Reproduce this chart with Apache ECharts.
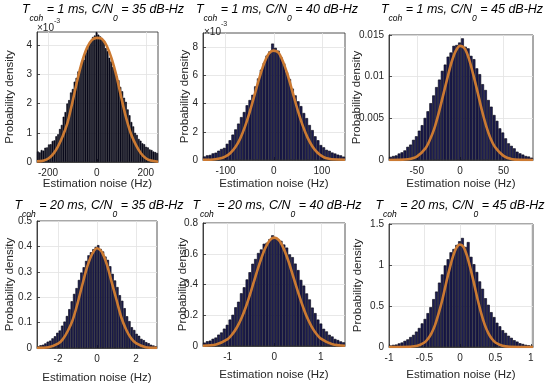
<!DOCTYPE html>
<html>
<head>
<meta charset="utf-8">
<script src="https://cdn.jsdelivr.net/npm/echarts@6/dist/echarts.min.js"></script>
<style>
  html, body { margin: 0; padding: 0; background: #fff; }
  #chart { width: 550px; height: 385px; }
</style>
</head>
<body>
<div id="chart"></div>
<script>
// ---- data ----
// histogram bin heights, left to right (bins span the whole x range)
const hist1 = [0.36,0.33,0.41,0.39,0.49,0.50,0.60,0.61,0.72,0.74,0.88,0.95,1.13,1.27,1.55,1.71,2.00,2.12,2.38,2.50,
  2.75,2.88,3.10,3.20,3.41,3.50,3.75,3.86,4.05,4.15,4.28,4.33,4.45,4.36,4.30,4.20,4.10,3.90,3.80,3.57,
  3.44,3.25,3.14,2.94,2.80,2.57,2.42,2.20,2.06,1.80,1.60,1.37,1.22,1.00,0.93,0.79,0.73,0.64,0.61,0.52,
  0.50,0.43,0.41,0.36,0.34,0.31]; // x10^-3
const hist2 = [0.25,0.33,0.36,0.47,0.52,0.66,0.78,0.86,1.15,1.40,1.80,2.17,2.58,3.04,3.40,3.88,4.25,4.62,5.22,5.78,
  6.40,6.88,7.40,7.70,8.25,7.95,7.75,7.28,6.85,6.22,5.74,5.06,4.58,4.16,3.82,3.33,2.97,2.48,2.12,1.68,
  1.40,1.06,0.90,0.72,0.65,0.53,0.46,0.38,0.33,0.24]; // x10^-3
const hist3 = [0.00038,0.00048,0.00055,0.00078,0.00092,0.00115,0.00158,0.00185,0.00242,0.00285,
  0.00352,0.00418,0.00505,0.00585,0.00682,0.00775,0.00875,0.00965,0.0107,0.01145,
  0.0124,0.0129,0.0137,0.0138,0.0141,0.0146,0.0136,0.0134,0.0125,0.0121,
  0.0110,0.0103,0.0091,0.0084,0.0072,0.0064,0.0054,0.0047,0.0038,0.0033,
  0.0026,0.0020,0.0017,0.0014,0.0010,0.0008,0.00065,0.00048,0.00042,0.00028];
const hist4 = [0.007,0.011,0.013,0.018,0.025,0.029,0.038,0.046,0.060,0.069,0.088,0.104,0.126,0.153,0.184,0.213,0.236,0.268,0.297,0.318,
  0.343,0.365,0.377,0.389,0.398,0.405,0.390,0.380,0.360,0.347,0.322,0.292,0.266,0.240,0.208,0.186,0.157,0.125,0.106,0.082,
  0.071,0.056,0.048,0.036,0.031,0.023,0.019,0.013,0.010,0.007];
const hist5 = [0.022,0.031,0.035,0.047,0.055,0.074,0.088,0.113,0.138,0.172,0.203,0.252,0.288,0.343,0.382,0.433,0.480,0.535,0.566,0.605,
  0.628,0.665,0.672,0.695,0.720,0.705,0.690,0.684,0.660,0.640,0.596,0.578,0.536,0.494,0.430,0.393,0.342,0.303,0.250,0.214,
  0.172,0.146,0.112,0.095,0.073,0.062,0.046,0.039,0.030,0.024];
const hist6 = [0.019,0.026,0.030,0.044,0.055,0.075,0.093,0.122,0.148,0.188,0.232,0.288,0.342,0.413,0.486,0.584,0.676,0.785,0.885,0.995,
  1.07,1.155,1.195,1.245,1.29,1.33,1.22,1.28,1.10,1.01,0.915,0.80,0.71,0.595,0.515,0.425,0.365,0.296,0.253,0.205,
  0.172,0.137,0.112,0.083,0.066,0.046,0.037,0.027,0.022,0.016];

// fitted gaussian curves (x, y)
const curveX1 = [-245,-220,-200,-180,-160,-140,-120,-100,-80,-60,-40,-20,0,20,40,60,80,100,120,140,160,180,200,220,250];
const curveY1 = [0.02,0.04,0.11,0.26,0.52,0.88,1.35,2.05,2.8,3.45,3.92,4.18,4.25,4.22,3.98,3.55,2.95,2.2,1.5,0.95,0.58,0.3,0.13,0.05,0.01];
const curveX2 = [-147,-130,-110,-100,-90,-80,-70,-60,-50,-40,-30,-20,-10,0,10,20,30,40,50,60,70,80,90,100,110,130,148];
const curveY2 = [0.02,0.02,0.12,0.25,0.5,0.9,1.5,2.35,3.4,4.6,5.8,6.85,7.55,7.75,7.6,6.9,5.9,4.7,3.5,2.45,1.6,0.98,0.55,0.28,0.13,0.03,0.02];
const curveX3 = [-82,-70,-60,-50,-40,-35,-30,-25,-20,-15,-10,-5,0,5,10,15,20,25,30,35,40,50,60,70,84];
const curveY3 = [0,0.00001,0.00008,0.0004,0.0014,0.0024,0.0037,0.0055,0.0076,0.0097,0.0117,0.0131,0.0137,0.0134,0.0122,0.0103,0.0082,0.006,0.0041,0.0026,0.0016,0.0005,0.0001,0.00002,0];
const curveX4 = [-3.08,-2.5,-2,-1.75,-1.5,-1.25,-1,-0.75,-0.5,-0.25,0,0.25,0.5,0.75,1,1.25,1.5,1.75,2,2.5,3.08];
const curveY4 = [0.0003,0.003,0.017,0.035,0.067,0.11,0.175,0.25,0.32,0.37,0.393,0.378,0.33,0.26,0.19,0.12,0.072,0.038,0.019,0.003,0.0003];
const curveX5 = [-1.53,-1.25,-1,-0.9,-0.8,-0.7,-0.6,-0.5,-0.4,-0.3,-0.2,-0.1,0,0.1,0.2,0.3,0.4,0.5,0.6,0.7,0.8,0.9,1,1.25,1.52];
const curveY5 = [0.002,0.01,0.045,0.077,0.122,0.184,0.262,0.355,0.455,0.55,0.632,0.686,0.705,0.688,0.635,0.556,0.46,0.362,0.27,0.19,0.128,0.081,0.048,0.011,0.002];
const curveX6 = [-1,-0.7,-0.6,-0.5,-0.45,-0.4,-0.35,-0.3,-0.25,-0.2,-0.15,-0.1,-0.05,0,0.05,0.1,0.15,0.2,0.25,0.3,0.35,0.4,0.45,0.5,0.6,0.7,1.03];
const curveY6 = [0,0.003,0.014,0.055,0.1,0.17,0.27,0.41,0.57,0.76,0.94,1.10,1.21,1.25,1.22,1.11,0.95,0.77,0.58,0.41,0.27,0.17,0.1,0.055,0.014,0.003,0];

// axis ranges and tick labels
const xRange1 = [-245, 250], xTicks1 = [-200, 0, 200], yMax1 = 4.45, yTicks1 = [0, 1, 2, 3, 4];
const xRange2 = [-147, 148], xTicks2 = [-100, 0, 100], yMax2 = 9, yTicks2 = [0, 2, 4, 6, 8];
const xRange3 = [-82, 84], xTicks3 = [-50, 0, 50], yMax3 = 0.015, yTicks3 = [0, 0.005, 0.01, 0.015];
const xRange4 = [-3.08, 3.08], xTicks4 = [-2, 0, 2], yMax4 = 0.5, yTicks4 = [0, 0.1, 0.2, 0.3, 0.4, 0.5];
const xRange5 = [-1.53, 1.52], xTicks5 = [-1, 0, 1], yMax5 = 0.8, yTicks5 = [0, 0.2, 0.4, 0.6, 0.8];
const xRange6 = [-1, 1.03], xTicks6 = [-1, -0.5, 0, 0.5, 1], yMax6 = 1.5, yTicks6 = [0, 0.5, 1, 1.5];

const tcoh = ['1', '1', '1', '20', '20', '20'];
const cn0 = ['35', '40', '45', '35', '40', '45'];

const panels = [
    { hist: hist1, cx: curveX1, cy: curveY1, xr: xRange1, xt: xTicks1, ymax: yMax1, yt: yTicks1 },
    { hist: hist2, cx: curveX2, cy: curveY2, xr: xRange2, xt: xTicks2, ymax: yMax2, yt: yTicks2 },
    { hist: hist3, cx: curveX3, cy: curveY3, xr: xRange3, xt: xTicks3, ymax: yMax3, yt: yTicks3 },
    { hist: hist4, cx: curveX4, cy: curveY4, xr: xRange4, xt: xTicks4, ymax: yMax4, yt: yTicks4 },
    { hist: hist5, cx: curveX5, cy: curveY5, xr: xRange5, xt: xTicks5, ymax: yMax5, yt: yTicks5 },
    { hist: hist6, cx: curveX6, cy: curveY6, xr: xRange6, xt: xTicks6, ymax: yMax6, yt: yTicks6 }
];

// ---- layout (px) ----
const boxes = [[37, 32, 121, 130], [203, 33, 142, 127], [389, 35, 144, 125],
               [37, 221, 120, 128], [203, 223, 142, 123], [389, 224, 144, 123]];
const yNameGap = [21, 12, 26, 21, 14, 25];
const xNameGap = [16, 18, 18, 24, 23, 22];
const titleX = [103, 277, 462, 99, 277, 460];
const titleY = [3.5, 3.5, 3.5, 199.5, 199.5, 199.5];
// first panel has many narrow bins, so it reads almost black
const barFill = ['#0e0e24', '#1d1d52', '#1d1d52', '#1d1d52', '#1d1d52', '#1d1d52'];

const FONT = '"Liberation Sans", Arial, sans-serif';
const INK = '#262626';
const NB = '\u00a0';

const grid = [], xAxis = [], yAxis = [], series = [], graphic = [];

panels.forEach(function (p, k) {
    const b = boxes[k];
    grid.push({ left: b[0], top: b[1], width: b[2], height: b[3], show: true,
        borderColor: INK, borderWidth: 0.8, backgroundColor: '#fff' });
    // hidden category axis carrying the histogram bins
    xAxis.push({ type: 'category', gridIndex: k, show: false, position: 'bottom',
        boundaryGap: true, data: p.hist.map(function (_, i) { return i; }) });
    // visible value axis for ticks and the fitted curve
    xAxis.push({ type: 'value', gridIndex: k, position: 'bottom', min: p.xr[0], max: p.xr[1],
        name: 'Estimation noise (Hz)', nameLocation: 'middle', nameGap: xNameGap[k], nameMoveOverlap: false,
        nameTextStyle: { fontFamily: FONT, fontSize: 11.5, color: INK },
        axisLine: { show: true, onZero: false, lineStyle: { color: INK, width: 0.8 } },
        axisTick: { show: true, inside: true, length: 3, customValues: p.xt, lineStyle: { color: INK, width: 0.8 } },
        axisLabel: { customValues: p.xt, fontFamily: FONT, fontSize: 10, color: INK, margin: 6 },
        splitLine: { show: true, lineStyle: { color: '#e2e2e2', width: 0.8 } } });
    yAxis.push({ type: 'value', gridIndex: k, min: 0, max: p.ymax,
        name: 'Probability density', nameLocation: 'middle', nameGap: yNameGap[k], nameMoveOverlap: false,
        nameTextStyle: { fontFamily: FONT, fontSize: 11.5, color: INK },
        axisLine: { show: true, onZero: false, lineStyle: { color: INK, width: 0.8 } },
        axisTick: { show: true, inside: true, length: 3, customValues: p.yt, lineStyle: { color: INK, width: 0.8 } },
        axisLabel: { customValues: p.yt, fontFamily: FONT, fontSize: 10, color: INK, margin: 5 },
        splitLine: { show: true, lineStyle: { color: '#e2e2e2', width: 0.8 } } });
    series.push({ type: 'bar', xAxisIndex: 2 * k, yAxisIndex: k, data: p.hist,
        barCategoryGap: '0%', silent: true,
        itemStyle: { color: barFill[k], borderColor: '#05050f', borderWidth: 0.6 } });
    series.push({ type: 'line', xAxisIndex: 2 * k + 1, yAxisIndex: k, silent: true,
        data: p.cx.map(function (x, i) { return [x, p.cy[i]]; }),
        smooth: 0.3, showSymbol: false, z: 5,
        lineStyle: { color: '#cc7a32', width: 2.6 } });

    graphic.push({ type: 'text', x: titleX[k], y: titleY[k], silent: true,
        style: {
            text: '{m|T}{s|coh}{m|' + NB + '=' + NB + tcoh[k] + NB + 'ms,' + NB + 'C/N}{s|0}{m|' + NB + '=' + NB + cn0[k] + NB + 'dB-Hz}',
            align: 'center', verticalAlign: 'top',
            rich: {
                m: { fontFamily: FONT, fontStyle: 'italic', fontSize: 12.5, lineHeight: 12, verticalAlign: 'top', fill: '#000' },
                s: { fontFamily: FONT, fontStyle: 'italic', fontSize: 8.5, lineHeight: 31, fill: '#000' }
            }
        } });
});

// x10^-3 exponent labels for the first two panels
[[37, 17.5], [204, 21]].forEach(function (pos) {
    graphic.push({ type: 'text', x: pos[0], y: pos[1], silent: true,
        style: {
            text: '{m|\u00d710}{p|-3}', align: 'left', verticalAlign: 'top',
            rich: {
                m: { fontFamily: FONT, fontSize: 10, lineHeight: 16, verticalAlign: 'bottom', fill: INK },
                p: { fontFamily: FONT, fontSize: 7, lineHeight: 8, verticalAlign: 'top', fill: INK }
            }
        } });
});

const option = {
    backgroundColor: '#fff',
    animation: false,
    grid: grid,
    xAxis: xAxis,
    yAxis: yAxis,
    series: series,
    graphic: graphic
};

const chart = echarts.init(document.getElementById('chart'));
chart.setOption(option);
window.addEventListener('resize', function () {
    chart.resize();
});
</script>
</body>
</html>
